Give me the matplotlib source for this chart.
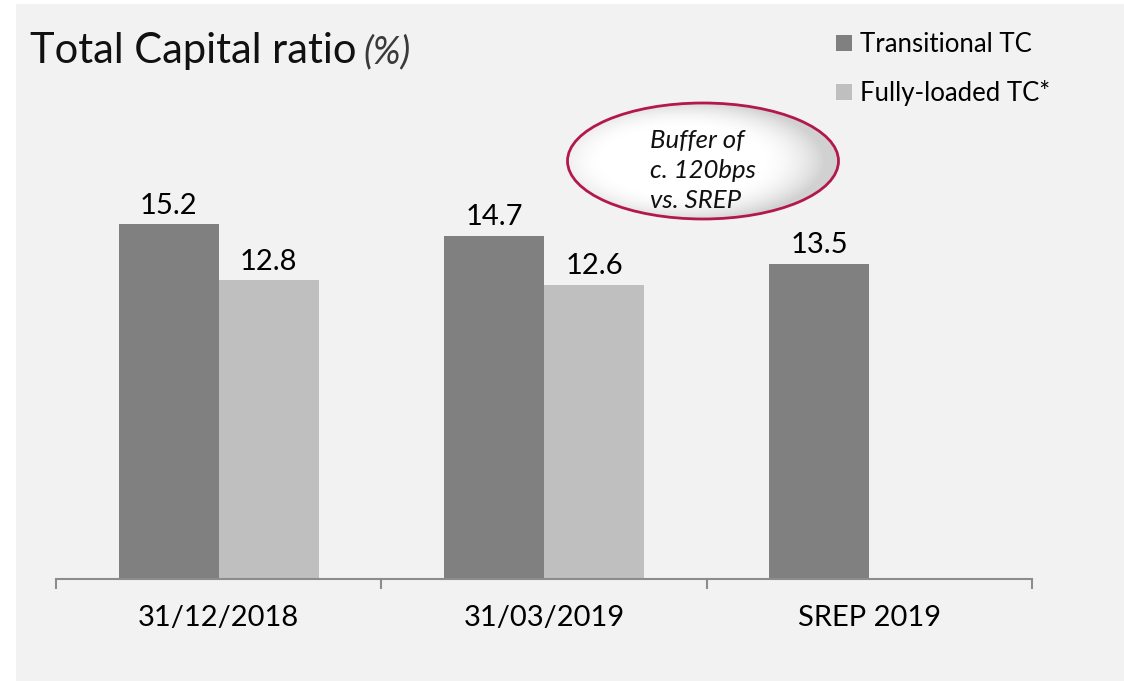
import numpy as np
import matplotlib.pyplot as plt
from matplotlib.patches import Ellipse, Rectangle

plt.rcParams['font.family'] = ['Lato', 'DejaVu Sans']

# data
categories = ["31/12/2018", "31/03/2019", "SREP 2019"]
transitional = [15.2, 14.7, 13.5]
fully_loaded = [12.8, 12.6, np.nan]
series_names = ["Transitional TC", "Fully-loaded TC*"]

dark = "#808080"
light = "#bfbfbf"
bg = "#f2f2f2"

W, H = 1124, 681
fig = plt.figure(figsize=(W / 100, H / 100), dpi=100)
fig.patch.set_facecolor("white")

# background panel (white strip left/top like the slide)
fig.patches.append(Rectangle((16 / W, 0), 1, 1 - 4 / H, transform=fig.transFigure,
                             facecolor=bg, edgecolor="none", zorder=-10))

ax = fig.add_axes([56 / W, 1 - 579 / H, (1032 - 56) / W, 467 / H])
ax.set_facecolor("none")

x = np.arange(len(categories))
bw = 0.3075
b1 = ax.bar(x - bw, transitional, bw, align="edge", color=dark, label=series_names[0])
b2 = ax.bar(x, fully_loaded, bw, align="edge", color=light, label=series_names[1])

for bars, vals in ((b1, transitional), (b2, fully_loaded)):
    for r, v in zip(bars, vals):
        if np.isnan(v):
            continue
        ax.annotate(f"{v:.1f}", (r.get_x() + r.get_width() / 2, v),
                    xytext=(0, 4), textcoords="offset points",
                    ha="center", va="bottom", fontsize=21)

ax.set_xlim(-0.5, len(categories) - 0.5)
ax.set_ylim(0, 20)
for s in ("top", "right", "left"):
    ax.spines[s].set_visible(False)
ax.spines["bottom"].set_color("#8c8c8c")
ax.spines["bottom"].set_linewidth(1.5)
ax.set_yticks([])
ax.set_xticks(x)
ax.set_xticklabels(categories, fontsize=21)
ax.tick_params(axis="x", which="major", length=0, pad=19)
ax.set_xticks(np.arange(len(categories) + 1) - 0.5, minor=True)
ax.tick_params(axis="x", which="minor", length=7, width=1.5, color="#8c8c8c", direction="out")

# title
t = fig.text(30 / W, 1 - 63 / H, "Total Capital ratio", fontsize=30, va="baseline", color="#111111")
ax.annotate("(%)", xy=(1, 0), xycoords=t, xytext=(5, 0), textcoords="offset points",
            fontsize=27, style="italic", color="#3a3a3a", va="bottom", ha="left",
            annotation_clip=False)

# legend
leg = fig.legend(handles=[b1, b2], labels=series_names, loc="upper left",
                 bbox_to_anchor=(836 / W, 1 - 32 / H), frameon=False, fontsize=18.5,
                 handlelength=0.62, handleheight=0.62, handletextpad=0.3,
                 labelspacing=0.9, borderpad=0, borderaxespad=0)

# callout ellipse
ov = fig.add_axes([0, 0, 1, 1], zorder=5)
ov.axis("off")
ov.patch.set_alpha(0)
ell = Ellipse((703, 161), 271, 116, facecolor="none", edgecolor="none")
ov.add_patch(ell)
yy, xx = np.mgrid[-1:1:200j, -1:1:200j]
rr = np.sqrt((xx + 0.15) ** 2 + (yy * 1.0) ** 2)
shade = 1 - 0.18 * np.clip((rr - 0.55) / 0.5, 0, 1) ** 2
img = ov.imshow(shade, cmap="gray", vmin=0, vmax=1,
                extent=(703 - 136, 703 + 136, 161 - 58, 161 + 58),
                origin="lower", interpolation="bilinear", aspect="auto", zorder=1)
img.set_clip_path(ell)
ov.add_patch(Ellipse((703, 161), 271, 116, facecolor="none", edgecolor="#b3184a",
                     linewidth=2, zorder=2))
ov.set_xlim(0, W)
ov.set_ylim(H, 0)
ov.text(650, 208, "Buffer of\nc. 120bps\nvs. SREP", fontsize=18.5, style="italic",
        ha="left", va="baseline", linespacing=1.36, color="#111111", zorder=3)

fig.savefig("out.png", dpi=100, facecolor=fig.get_facecolor())
